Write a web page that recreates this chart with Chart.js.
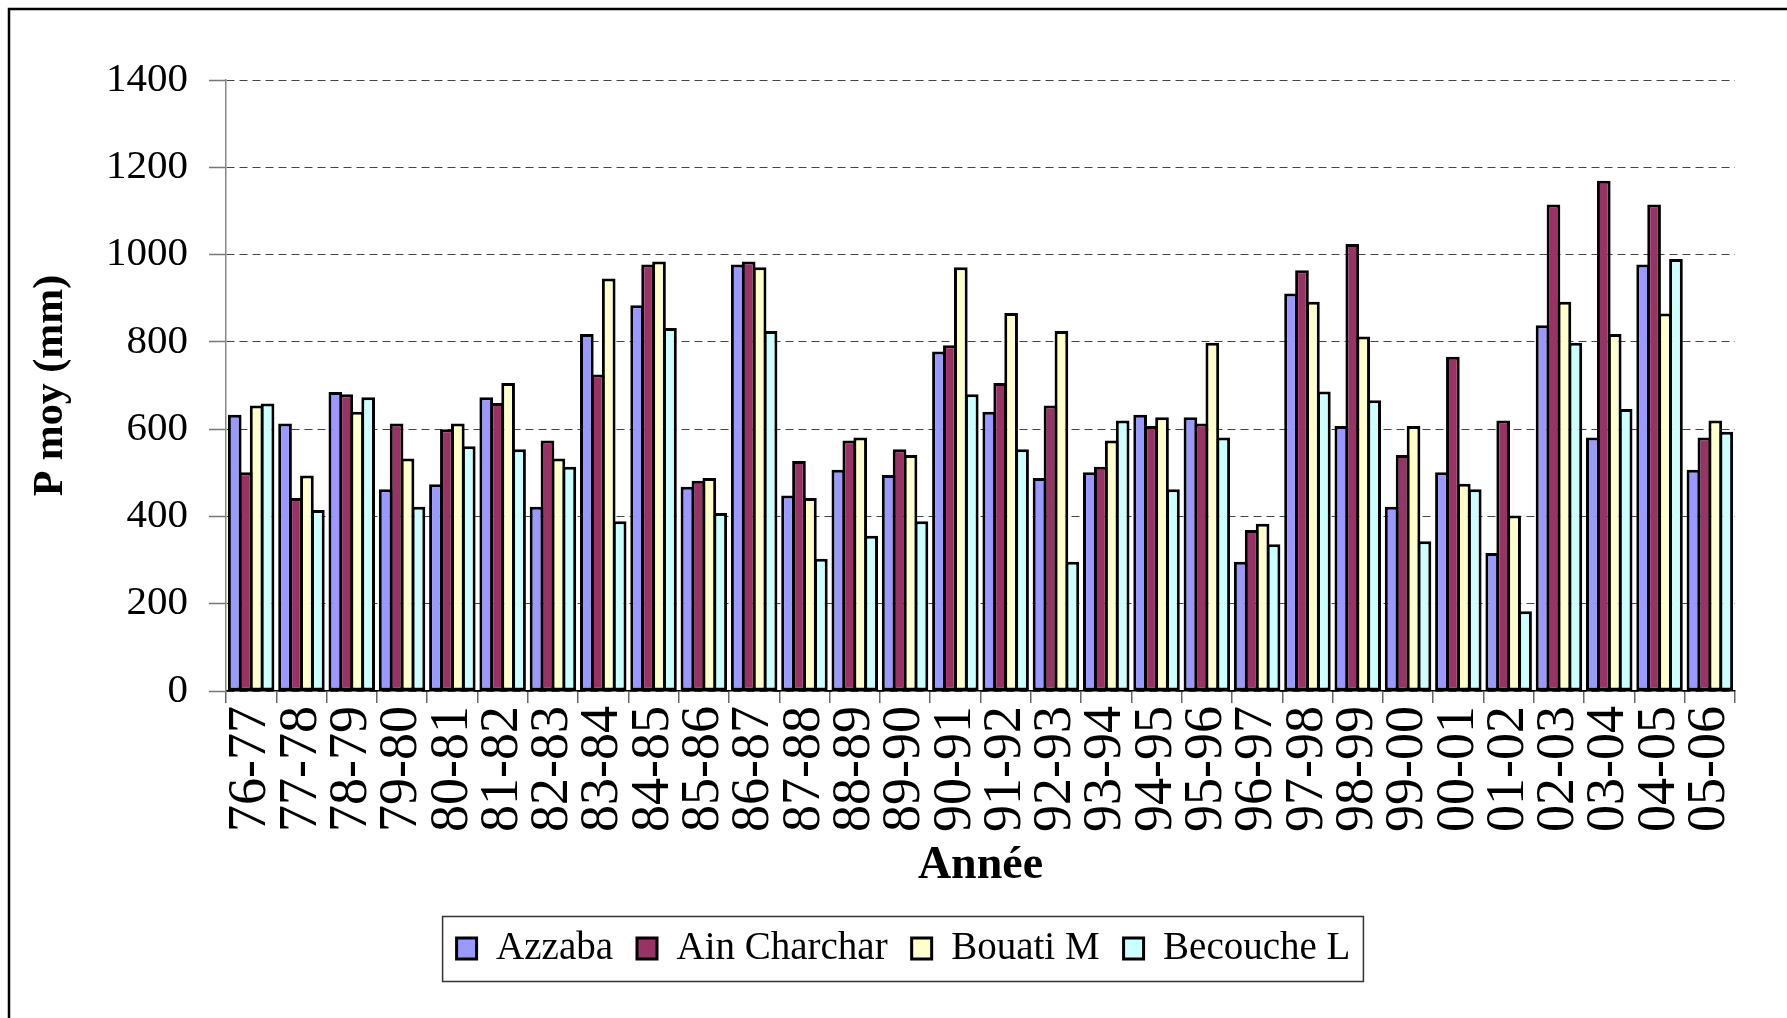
<!DOCTYPE html>
<html>
<head>
<meta charset="utf-8">
<title>P moy (mm)</title>
<script src="https://cdn.jsdelivr.net/npm/chart.js@4.4.0/dist/chart.umd.min.js"></script>
<style>
  html, body { margin: 0; padding: 0; background: #fff; }
  canvas { display: block; }
</style>
</head>
<body>
<canvas id="pluie" width="1787" height="1018"></canvas>
<script>
// annees hydrologiques
const annees = ['76-77','77-78','78-79','79-80','80-81','81-82','82-83','83-84','84-85','85-86',
                '86-87','87-88','88-89','89-90','90-91','91-92','92-93','93-94','94-95','95-96',
                '96-97','97-98','98-99','99-00','00-01','01-02','02-03','03-04','04-05','05-06'];

// precipitations moyennes (mm)
const azzaba      = [633, 613, 685, 462, 474, 673, 422, 818, 884, 468, 977, 448, 507, 495, 778,
                     640, 488, 501, 633, 627, 296, 911, 607, 422, 501, 316, 838, 581, 977, 507];
const ainCharchar = [501, 442, 680, 613, 600, 660, 574, 725, 977, 482, 984, 527, 574, 554, 792,
                     706, 654, 514, 607, 613, 369, 964, 1024, 541, 766, 620, 1115, 1169, 1115, 581];
const bouatiM     = [654, 494, 640, 533, 613, 706, 533, 945, 984, 488, 971, 442, 581, 541, 971,
                     866, 825, 574, 627, 798, 383, 892, 812, 607, 475, 402, 892, 818, 865, 620];
const becoucheL   = [659, 415, 673, 422, 561, 554, 514, 389, 832, 408, 825, 303, 356, 389, 680,
                     554, 296, 620, 462, 581, 336, 686, 666, 343, 462, 183, 798, 646, 990, 594];

const yTicks = [0, 200, 400, 600, 800, 1000, 1200, 1400];

const serif = '"Liberation Serif", "Times New Roman", serif';

// cadre exterieur + bordure de la legende
const cadre = {
    id: 'cadre',
    beforeDraw(chart){
        const ctx = chart.ctx;
        ctx.save();
        ctx.fillStyle = '#fff';
        ctx.fillRect(0, 0, chart.width, chart.height);
        ctx.strokeStyle = '#000';
        ctx.lineWidth = 2.5;
        ctx.strokeRect(9, 9, chart.width + 20, chart.height + 20);
        ctx.restore();
    },
    afterDraw(chart){
        const lg = chart.legend;
        if(!lg || !lg.legendHitBoxes || !lg.legendHitBoxes.length) return;
        const hb = lg.legendHitBoxes;
        const first = hb[0], last = hb[hb.length - 1];
        const cy = first.top + first.height / 2;
        const x0 = first.left - 14, x1 = last.left + last.width + 13;
        const ctx = chart.ctx;
        ctx.save();
        ctx.strokeStyle = '#333';
        ctx.lineWidth = 1.5;
        ctx.strokeRect(x0, cy - 32, x1 - x0, 65);
        ctx.restore();
    }
};

// barres jointives : la bordure est partagee entre deux barres voisines
function serie(label, values, color){
    return {
        label: label,
        data: values,
        backgroundColor: color,
        borderColor: '#000',
        borderWidth: 3,
        borderSkipped: false,
        categoryPercentage: 0.87,
        barPercentage: 1.25
    };
}

new Chart(document.getElementById('pluie').getContext('2d'), {
    type: 'bar',
    data: {
        labels: annees,
        datasets: [
            serie('Azzaba', azzaba, '#9999FF'),
            serie('Ain Charchar', ainCharchar, '#993366'),
            serie('Bouati M', bouatiM, '#FFFFCC'),
            serie('Becouche L', becoucheL, '#CCFFFF')
        ]
    },
    options: {
        responsive: false,
        animation: false,
        devicePixelRatio: 1,
        layout: { padding: { left: 72, right: 52, top: 80, bottom: 40 } },
        scales: {
            x: {
                grid: { offset: true, drawOnChartArea: false, tickLength: 12, color: '#666', lineWidth: 1.5 },
                border: { color: '#000', width: 1.5 },
                ticks: {
                    autoSkip: false, maxRotation: 90, minRotation: 90, padding: 3,
                    color: '#000', font: { family: serif, size: 54 }
                },
                title: {
                    display: true, text: 'Année', color: '#000',
                    font: { family: serif, size: 46, weight: 'bold', lineHeight: 1 },
                    padding: { top: 0, bottom: 16 }
                },
                afterFit(scale){ scale.height = 214; }
            },
            y: {
                min: 0, max: 1400,
                afterBuildTicks(scale){ scale.ticks = yTicks.map(v => ({ value: v })); },
                grid: { color: '#444', lineWidth: 1, tickLength: 17, tickColor: '#777', tickWidth: 1.5, tickBorderDash: [] },
                border: { color: '#888', width: 1.5, dash: [8, 5] },
                ticks: {
                    padding: 21, color: '#000', font: { family: serif, size: 41 },
                    callback: v => String(v)
                },
                title: {
                    display: true, text: 'P moy (mm)', color: '#000',
                    font: { family: serif, size: 42, weight: 'bold', lineHeight: 1 },
                    padding: { top: -42, bottom: 0 }
                },
                afterFit(scale){ scale.width = 154; }
            }
        },
        plugins: {
            legend: {
                position: 'bottom',
                labels: {
                    boxWidth: 20, boxHeight: 21, padding: 24, color: '#000',
                    font: { family: serif, size: 39 }
                }
            },
            tooltip: { enabled: false }
        }
    },
    plugins: [cadre]
});
</script>
</body>
</html>
